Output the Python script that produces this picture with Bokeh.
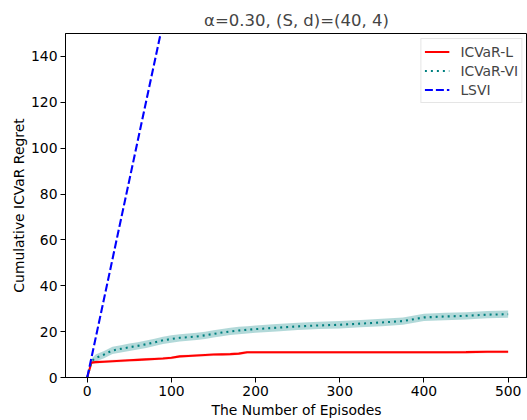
from bokeh.plotting import figure
from bokeh.models import Range1d, Legend, LegendItem, ColumnDataSource, FixedTicker
from bokeh.embed import file_html
from bokeh.resources import INLINE

# ---- data ----
episodes = [0, 5, 10, 20, 30, 40, 50, 60, 70, 80, 90, 100, 110, 120, 130, 140, 150,
            160, 170, 180, 190, 200, 225, 250, 275, 300, 325, 350, 375, 400, 425,
            450, 475, 500]
icvar_l = [0, 6.5, 6.7, 6.9, 7.1, 7.3, 7.5, 7.7, 7.9, 8.1, 8.3, 8.6, 9.2, 9.4, 9.6,
           9.8, 10.0, 10.1, 10.2, 10.4, 11.0, 11.0, 11.0, 11.0, 11.0, 11.0, 11.0,
           11.0, 11.0, 11.0, 11.0, 11.05, 11.2, 11.2]
icvar_l_std = [0, 0.5, 0.6, 0.6, 0.6, 0.6, 0.6, 0.6, 0.6, 0.6, 0.6, 0.6, 0.6, 0.6,
               0.6, 0.6, 0.6, 0.6, 0.6, 0.6, 0.6, 0.6, 0.6, 0.6, 0.6, 0.6, 0.6, 0.6,
               0.6, 0.6, 0.6, 0.6, 0.6, 0.6]
icvar_vi = [0, 7.0, 8.5, 10.0, 11.8, 12.5, 13.2, 13.8, 14.5, 15.3, 16.2, 16.8, 17.3,
            17.6, 17.9, 18.4, 19.0, 19.6, 20.1, 20.5, 20.8, 21.1, 21.7, 22.3, 22.7,
            23.0, 23.5, 24.0, 24.6, 26.2, 26.6, 26.9, 27.4, 27.6]
icvar_vi_std = [0, 1.2, 1.5, 1.6, 1.6, 1.6, 1.6, 1.6, 1.6, 1.6, 1.6, 1.6, 1.6, 1.6,
                1.6, 1.6, 1.6, 1.6, 1.6, 1.6, 1.6, 1.6, 1.6, 1.6, 1.6, 1.6, 1.6, 1.6,
                1.6, 1.6, 1.6, 1.6, 1.6, 1.6]
lsvi_episodes = [0, 100, 200, 300, 400, 500]
lsvi = [0, 172, 345, 517, 690, 862]

x_ticks = [0, 100, 200, 300, 400, 500]
y_ticks = [0, 20, 40, 60, 80, 100, 120, 140]

FONT = "DejaVu Sans"

src = ColumnDataSource(dict(
    x=episodes,
    l=icvar_l,
    l_lo=[m - s for m, s in zip(icvar_l, icvar_l_std)],
    l_hi=[m + s for m, s in zip(icvar_l, icvar_l_std)],
    vi=icvar_vi,
    vi_lo=[m - s for m, s in zip(icvar_vi, icvar_vi_std)],
    vi_hi=[m + s for m, s in zip(icvar_vi, icvar_vi_std)],
))
lsrc = ColumnDataSource(dict(x=lsvi_episodes, y=lsvi))

p = figure(width=527, height=420, output_backend="svg", toolbar_location=None,
           x_range=Range1d(-25.8, 523), y_range=Range1d(0, 150),
           min_border_left=65, min_border_right=0, min_border_top=33,
           min_border_bottom=43)

p.title.text = "\u03b1=0.30, (S, d)=(40, 4)"
p.title.align = "center"
p.title.text_font = FONT
p.title.text_font_size = "16.5px"
p.title.text_font_style = "normal"
p.title.standoff = 7

p.grid.visible = False
p.outline_line_color = "black"
p.outline_line_width = 1
p.background_fill_color = "white"
p.border_fill_color = "white"

for ax in (p.xaxis[0], p.yaxis[0]):
    ax.major_tick_out = 5
    ax.major_tick_in = 0
    ax.minor_tick_out = 0
    ax.minor_tick_in = 0
    ax.axis_line_color = "black"
    ax.major_tick_line_color = "black"
    ax.major_label_text_font = FONT
    ax.major_label_text_font_size = "13.9px"
    ax.major_label_text_color = "black"
    ax.axis_label_text_font = FONT
    ax.axis_label_text_font_size = "13.9px"
    ax.axis_label_text_font_style = "normal"
    ax.axis_label_text_color = "black"
    ax.major_label_standoff = 3

p.xaxis.axis_label_standoff = 3
p.yaxis.axis_label_standoff = 1
p.xaxis.ticker = FixedTicker(ticks=x_ticks)
p.yaxis.ticker = FixedTicker(ticks=y_ticks)
p.xaxis.axis_label = "The Number of Episodes"
p.yaxis.axis_label = "Cumulative ICVaR Regret"

# bands
p.varea(x="x", y1="l_lo", y2="l_hi", source=src, fill_color="red", fill_alpha=0.2)
p.varea(x="x", y1="vi_lo", y2="vi_hi", source=src, fill_color="#008080", fill_alpha=0.3)

r_l = p.line(x="x", y="l", source=src, line_color="red", line_width=2.1)
r_vi = p.line(x="x", y="vi", source=src, line_color="#008080", line_width=2.1,
              line_dash="2 4")
r_ls = p.line(x="x", y="y", source=lsrc, line_color="blue", line_width=2.1,
              line_dash="8 3")

legend = Legend(items=[LegendItem(label="ICVaR-L", renderers=[r_l]),
                       LegendItem(label="ICVaR-VI", renderers=[r_vi]),
                       LegendItem(label="LSVI", renderers=[r_ls])],
                location="top_right")
legend.label_text_font = FONT
legend.label_text_font_size = "13.9px"
legend.label_height = 19
legend.glyph_height = 19
legend.glyph_width = 25
legend.label_standoff = 11
legend.spacing = 0
legend.padding = 3
legend.margin = 5
legend.border_line_color = "#cccccc"
legend.border_line_width = 1
legend.background_fill_alpha = 0.8
p.add_layout(legend)

open("out.html", "w").write(file_html(p, INLINE))
